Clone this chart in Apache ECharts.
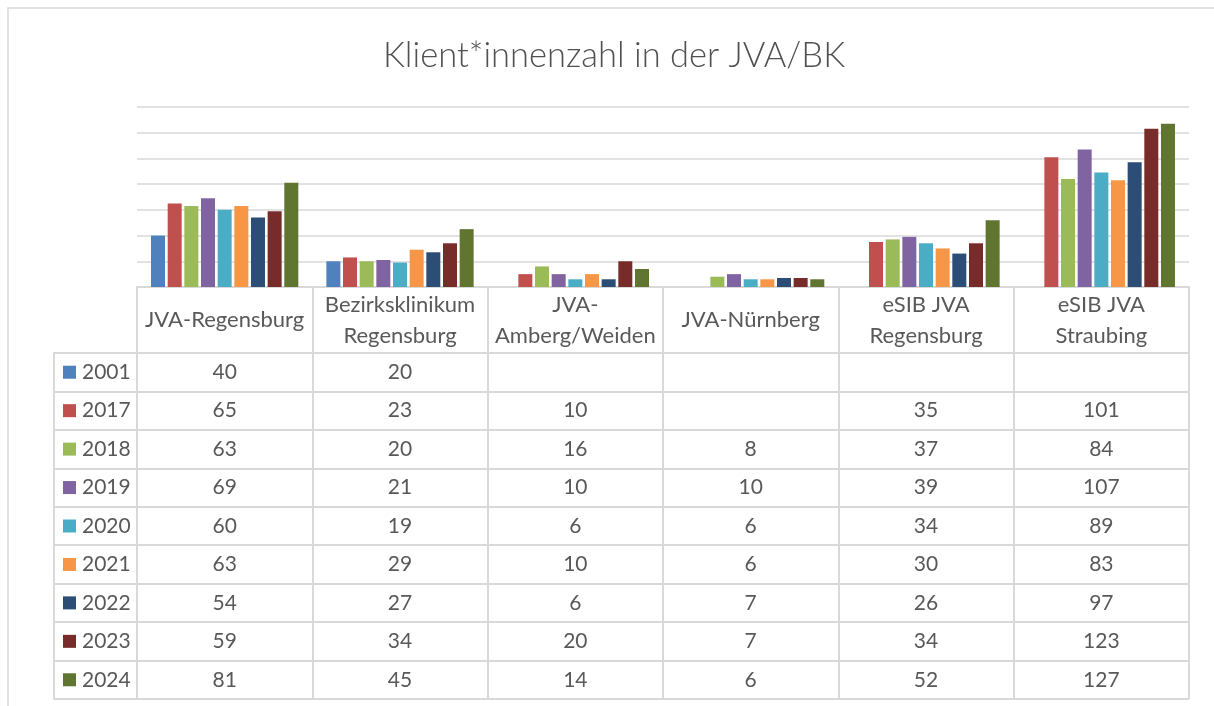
<!DOCTYPE html>
<html>
<head>
<meta charset="utf-8">
<script src="https://cdn.jsdelivr.net/npm/echarts@6/dist/echarts.min.js"></script>
<style>
html,body{margin:0;padding:0;background:#fff;}
#chart{width:1214px;height:706px;}
</style>
</head>
<body>
<div id="chart"></div>
<script>
const categories = ['JVA-Regensburg', 'Bezirksklinikum Regensburg', 'JVA-Amberg/Weiden', 'JVA-Nürnberg', 'eSIB JVA Regensburg', 'eSIB JVA Straubing'];
const headerLabels = ['JVA-Regensburg', 'Bezirksklinikum\nRegensburg', 'JVA-\nAmberg/Weiden', 'JVA-Nürnberg', 'eSIB JVA\nRegensburg', 'eSIB JVA\nStraubing'];
const years = ['2001', '2017', '2018', '2019', '2020', '2021', '2022', '2023', '2024'];
const v2001 = [40, 20, null, null, null, null];
const v2017 = [65, 23, 10, null, 35, 101];
const v2018 = [63, 20, 16, 8, 37, 84];
const v2019 = [69, 21, 10, 10, 39, 107];
const v2020 = [60, 19, 6, 6, 34, 89];
const v2021 = [63, 29, 10, 6, 30, 83];
const v2022 = [54, 27, 6, 7, 26, 97];
const v2023 = [59, 34, 20, 7, 34, 123];
const v2024 = [81, 45, 14, 6, 52, 127];
const seriesValues = [v2001, v2017, v2018, v2019, v2020, v2021, v2022, v2023, v2024];
const colors = ['#4F81BD', '#C0504D', '#9BBB59', '#8064A2', '#4BACC6', '#F79646', '#2C4D75', '#772C2A', '#5F7530'];

const FONT = 'Lato, "Noto Sans", sans-serif';
const TXT = '#595959';
const LINE = '#d9d9d9';

const tableData = [];
seriesValues.forEach((arr, i) => {
  arr.forEach((v, j) => { if (v !== null) tableData.push([j, i, v]); });
});

const rich = {};
colors.forEach((c, i) => {
  rich['b' + i] = { width: 13, height: 13, backgroundColor: c };
});
rich.t = { fontSize: 21, color: TXT, fontFamily: FONT, padding: [0, 0, 0, 6] };

const chart = echarts.init(document.getElementById('chart'), null, { renderer: 'canvas' });

const barSeries = seriesValues.map((arr, i) => ({
  name: years[i],
  type: 'bar',
  xAxisIndex: 0,
  yAxisIndex: 0,
  data: arr,
  barWidth: 14,
  barGap: '19%',
  itemStyle: { color: colors[i] },
  silent: true
}));

chart.setOption({
  animation: false,
  color: colors,
  title: {
    text: 'Klient*innenzahl in der JVA/BK',
    left: 609,
    textAlign: 'center',
    top: 33,
    textStyle: { fontFamily: FONT, fontWeight: 300, fontSize: 34.5, color: '#505050' }
  },
  graphic: [{
    type: 'rect',
    shape: { x: 8, y: 8, width: 1230, height: 720 },
    style: { fill: 'none', stroke: LINE, lineWidth: 1.5 },
    silent: true
  }],
  grid: [
    { left: 137, right: 25, top: 107, height: 180 },
    { left: 137, right: 25, top: 353, height: 346 }
  ],
  xAxis: [{
    type: 'category',
    gridIndex: 0,
    data: categories,
    axisLine: { lineStyle: { color: LINE, width: 2 } },
    axisTick: { show: true, length: 66, interval: 0, lineStyle: { color: LINE, width: 2 } },
    axisLabel: {
      interval: 0,
      margin: 33,
      verticalAlign: 'middle',
      lineHeight: 31,
      fontSize: 22,
      fontFamily: FONT,
      color: TXT,
      formatter: (v, idx) => headerLabels[idx]
    },
    splitLine: { show: false }
  }, {
    type: 'category',
    gridIndex: 1,
    data: categories,
    position: 'top',
    axisLine: { show: true, lineStyle: { color: LINE, width: 2 } },
    axisTick: { show: false },
    axisLabel: { show: false },
    splitLine: { show: true, interval: 0, lineStyle: { color: LINE, width: 2 } }
  }],
  yAxis: [{
    type: 'value',
    gridIndex: 0,
    min: 0,
    max: 140,
    interval: 20,
    axisLine: { show: false },
    axisTick: { show: false },
    axisLabel: { show: false },
    splitLine: { lineStyle: { color: LINE, width: 1.5 } }
  }, {
    type: 'category',
    gridIndex: 1,
    data: years,
    inverse: true,
    axisLine: { show: true, lineStyle: { color: LINE, width: 2 } },
    axisTick: { show: true, length: 83, interval: 0, lineStyle: { color: LINE, width: 2 } },
    axisLabel: {
      interval: 0,
      align: 'left',
      margin: 74,
      formatter: (v, idx) => '{b' + idx + '|}{t|' + v + '}',
      rich: rich
    },
    splitLine: { show: true, interval: 0, lineStyle: { color: LINE, width: 2 } }
  }, {
    type: 'category',
    gridIndex: 1,
    data: years,
    inverse: true,
    position: 'left',
    offset: 83,
    axisLine: { show: true, lineStyle: { color: LINE, width: 2 } },
    axisTick: { show: false },
    axisLabel: { show: false },
    splitLine: { show: false }
  }],
  series: barSeries.concat([{
    type: 'custom',
    xAxisIndex: 1,
    yAxisIndex: 1,
    data: tableData,
    silent: true,
    renderItem: function (params, api) {
      const p = api.coord([api.value(0), api.value(1)]);
      return {
        type: 'text',
        x: p[0],
        y: p[1],
        style: {
          text: String(api.value(2)),
          align: 'center',
          verticalAlign: 'middle',
          fontSize: 21,
          fontFamily: FONT,
          fill: TXT
        }
      };
    }
  }])
});
</script>
</body>
</html>
